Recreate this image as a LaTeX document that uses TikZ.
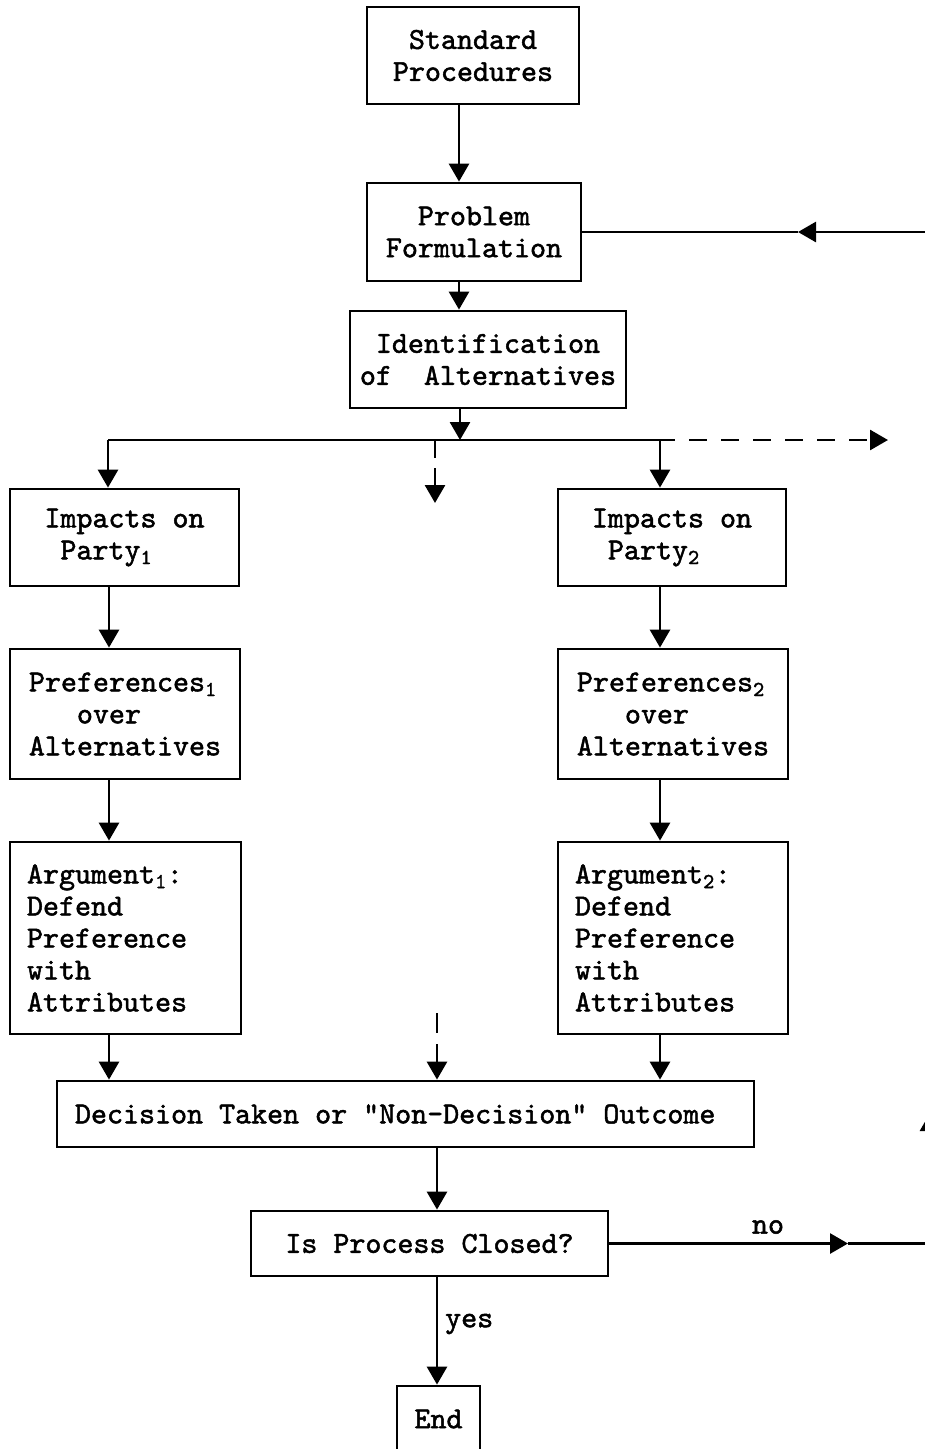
\documentclass[tikz,border=0pt]{standalone}
\usepackage{fontspec}
\newfontfamily\courfont[FakeBold=1.6]{lmmono10-regular.otf}
\newcommand\diagfont{\courfont\fontsize{30.5}{32}\selectfont\spaceskip 16pt\relax}
\usetikzlibrary{arrows.meta,calc}
\begin{document}
\begin{tikzpicture}[x=1pt,y=-1pt,
  txt/.style={font=\diagfont},
  box/.style={draw, line width=2.8pt, inner sep=0pt, txt},
  lnk/.style={line width=2.8pt},
  arr/.style={lnk, -{Triangle[width=20pt,length=18pt]}},
  lbl/.style={txt, inner sep=0pt}]
\fill[white] (0,0) rectangle (925,1449);
\useasboundingbox (0,0) rectangle (925,1449);

% boxes
\node[box, minimum width=212pt, minimum height=97pt, align=center] (sp) at (473,55.5) {Standard\\Procedures};
\node[box, minimum width=214pt, minimum height=98pt, align=center] (pf) at (474,232) {Problem\\Formulation};
\node[box, minimum width=276pt, minimum height=97pt, align=center] (ia) at (488,359.5) {Identification\\of~~Alternatives};
\node[box, minimum width=229pt, minimum height=97pt, align=left] (i1) at (124.5,537.5) {Impacts on\\~Party\textsubscript{1}};
\node[box, minimum width=228pt, minimum height=97pt, align=left] (i2) at (672,537.5) {Impacts on\\~Party\textsubscript{2}};
\node[box, minimum width=230pt, minimum height=130pt, align=left] (p1) at (125,714) {Preferences\textsubscript{1}\\~~~over\\Alternatives};
\node[box, minimum width=230pt, minimum height=130pt, align=left] (p2) at (673,714) {Preferences\textsubscript{2}\\~~~over\\Alternatives};
\node[box, minimum width=231pt, minimum height=192pt, text width=197pt, align=left] (a1) at (125.5,938) {Argument\textsubscript{1}:\\Defend\\Preference\\with\\Attributes};
\node[box, minimum width=230pt, minimum height=192pt, text width=196pt, align=left] (a2) at (673,938) {Argument\textsubscript{2}:\\Defend\\Preference\\with\\Attributes};
\node[box, minimum width=697pt, minimum height=66pt, text width=661pt, align=left] (dec) at (405.5,1114) {\spaceskip 16pt\relax Decision Taken or \textquotedbl Non-Decision\textquotedbl{} Outcome};
\node[box, minimum width=357pt, minimum height=65pt, align=center] (ipc) at (429.5,1243.5) {Is Process Closed?};
\node[box, minimum width=83pt, minimum height=66pt, align=center] (end) at (438.5,1419) {End};

% reference coordinates
\coordinate (xa) at (459,0);
\coordinate (xl) at (109,0);
\coordinate (xr) at (660,0);
\coordinate (xc) at (437,0);
\coordinate (busL) at (108,440);
\coordinate (busM) at (460,440);
\coordinate (busC) at (435,440);
\coordinate (busB) at (660,440);
\coordinate (busR) at (675,440);
\coordinate (busE) at (888,440);
\coordinate (dtip) at (435,503);
\coordinate (dtop) at (437,1013);
\coordinate (pfE) at (930,232);
\coordinate (pfT) at (798,232);
\coordinate (noT) at (848,1243.5);
\coordinate (noE) at (930,1243.5);
\coordinate (upA) at (930,1170);
\coordinate (upT) at (930,1113);

% connectors
\draw[arr] (sp.south -| xa) -- (pf.north -| xa);
\draw[arr] (pf.south -| xa) -- (ia.north -| xa);
\draw[arr] (ia.south -| busM) -- (busM);
\draw[lnk] (busL) -- (busR);
\draw[arr, dash pattern=on 18pt off 14pt, dash phase=18pt] (busR) -- (busE);
\draw[arr] (busL) -- (i1.north -| busL);
\draw[arr] (busB) -- (i2.north -| busB);
\draw[arr, dash pattern=on 18pt off 10pt] (busC) -- (dtip);

\draw[arr] (i1.south -| xl) -- (p1.north -| xl);
\draw[arr] (p1.south -| xl) -- (a1.north -| xl);
\draw[arr] (a1.south -| xl) -- (dec.north -| xl);
\draw[arr] (i2.south -| xr) -- (p2.north -| xr);
\draw[arr] (p2.south -| xr) -- (a2.north -| xr);
\draw[arr] (a2.south -| xr) -- (dec.north -| xr);
\draw[arr, dash pattern=on 20pt off 11pt] (dtop) -- (dec.north -| xc);

\draw[arr] (dec.south -| xc) -- (ipc.north -| xc);
\draw[arr] (ipc.south -| xc) -- (end.north -| xc);
\node[lbl, anchor=west] (yes) at (445,1324) {yes};

\draw[arr] (ipc.east) -- (noT);
\draw[lnk] (noT) -- (noE);
\node[lbl] (no) at (768,1227) {no};

\draw[arr] (pfE) -- (pfT);
\draw[lnk] (pfT) -- (pf.east);

\draw[arr] (upA) -- (upT);
\end{tikzpicture}
\end{document}
